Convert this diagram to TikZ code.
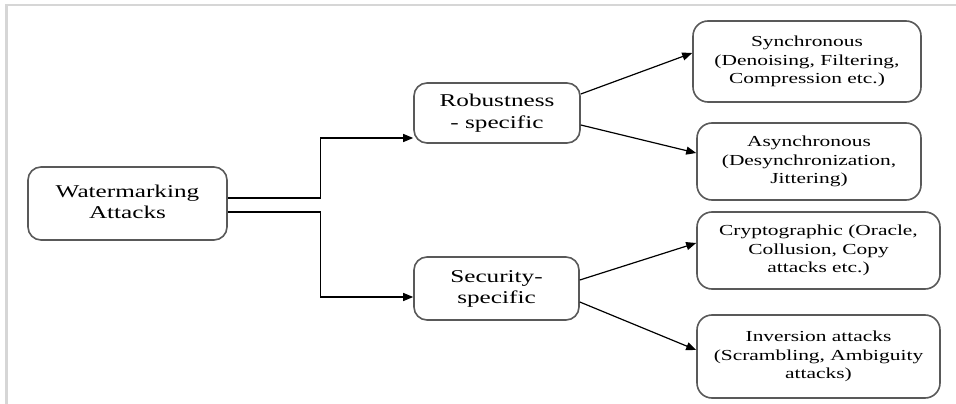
\documentclass[tikz,border=0pt]{standalone}
\usepackage{graphicx}
\usepackage{fontspec}
\setmainfont{Liberation Serif}
\usetikzlibrary{arrows.meta}

% labels are set in a horizontally widened serif face
\newcommand{\widetext}[1]{\scalebox{1.4}[1]{\begin{tabular}{@{}c@{}}#1\end{tabular}}}

\tikzset{
  box/.style={draw=black!65, line width=1.6pt, rounded corners=13pt, fill=white,
              inner sep=0pt, text=black},
  bigbox/.style={box, font=\fontsize{18}{21.6}\selectfont},
  smallbox/.style={box, rounded corners=15pt, font=\fontsize{15.3}{18.5}\selectfont},
  arr/.style={draw=black, line width=1.2pt, -{Triangle[length=10pt,width=8pt]}},
  frameline/.style={draw=black!16, line width=2.5pt}
}

\begin{document}
\begin{tikzpicture}[x=1pt, y=-1pt]
  \useasboundingbox (0,0) rectangle (956,404);

  % page frame
  \draw[frameline] (6.5,404) -- (6.5,5) -- (956,5);

  % root
  \node[bigbox, minimum width=199pt, minimum height=73pt] (wa) at (127.5,203.5)
    {\widetext{Watermarking\\Attacks}};

  % middle level
  \node[bigbox, minimum width=166pt, minimum height=60pt] (rs) at (497,113)
    {\widetext{Robustness\\- specific}};
  \node[bigbox, minimum width=165pt, minimum height=63pt] (ss) at (496.5,288.5)
    {\widetext{Security-\\specific}};

  % leaves
  \node[smallbox, minimum width=228pt, minimum height=81pt] (sync) at (807,61.5)
    {\widetext{Synchronous\\(Denoising, Filtering,\\Compression etc.)}};
  \node[smallbox, minimum width=224pt, minimum height=77pt] (async) at (809,161.5)
    {\widetext{Asynchronous\\(Desynchronization,\\Jittering)}};
  \node[smallbox, minimum width=243pt, minimum height=77pt] (crypt) at (818.5,250.5)
    {\widetext{Cryptographic (Oracle,\\Collusion, Copy\\attacks etc.)}};
  \node[smallbox, minimum width=243pt, minimum height=83pt] (inv) at (818.5,356.5)
    {\widetext{Inversion attacks\\(Scrambling, Ambiguity\\attacks)}};

  % elbow connectors from the root
  \draw[arr] ([yshift=5.5pt]wa.east) -- ++(93,0) |- ([yshift=-25pt]rs.west);
  \draw[arr] ([yshift=-8.5pt]wa.east) -- ++(93,0) |- ([yshift=-8.5pt]ss.west);

  % straight connectors to the leaves
  \draw[arr] ([yshift=19pt]rs.east) -- ([yshift=8.5pt]sync.west);
  \draw[arr] ([yshift=-12pt]rs.east) -- ([yshift=8.5pt]async.west);
  \draw[arr] ([yshift=8.5pt]ss.east) -- ([yshift=7.5pt]crypt.west);
  \draw[arr] ([yshift=-13.5pt]ss.east) -- ([yshift=6.5pt]inv.west);
\end{tikzpicture}
\end{document}
